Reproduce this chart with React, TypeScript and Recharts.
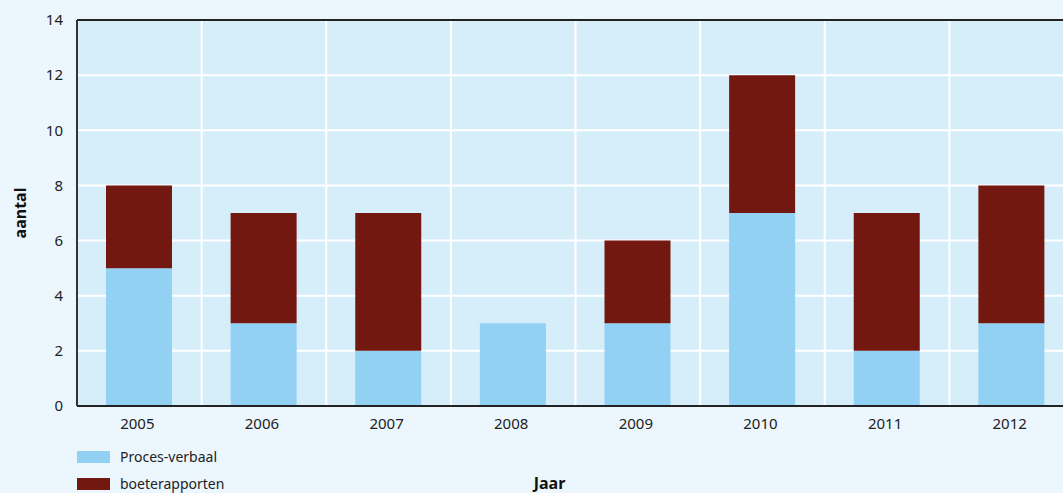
import React from 'react';
import {
  BarChart,
  Bar,
  XAxis,
  YAxis,
  CartesianGrid,
  ReferenceLine,
} from 'recharts';

const years = ['2005', '2006', '2007', '2008', '2009', '2010', '2011', '2012'];
const procesVerbaal = [5, 3, 2, 3, 3, 7, 2, 3];
const boeterapporten = [3, 4, 5, 0, 3, 5, 5, 5];
const yTicks = [0, 2, 4, 6, 8, 10, 12, 14];

const data = years.map((year, i) => ({
  year,
  pv: procesVerbaal[i],
  br: boeterapporten[i],
}));

const FONT = '"Noto Sans", "Open Sans", sans-serif';
const LIGHT = '#92d1f3';
const DARK = '#731811';

const legendItems = [
  { label: 'Proces-verbaal', color: LIGHT },
  { label: 'boeterapporten', color: DARK },
];

export default function App() {
  return (
    <div
      style={{
        position: 'absolute',
        left: 0,
        top: 0,
        width: 1063,
        height: 493,
        overflow: 'hidden',
        background: '#ecf6fd',
      }}
    >
      <BarChart
        width={1090}
        height={493}
        data={data}
        margin={{ top: 20, right: 16, bottom: 47, left: 0 }}
        barSize={66}
      >
        <CartesianGrid
          fill="#d6eefa"
          stroke="#ffffff"
          strokeWidth={2}
          verticalCoordinatesGenerator={({ offset }: any) =>
            years.map((_, i) => offset.left + (i * offset.width) / years.length)
          }
        />
        <XAxis
          dataKey="year"
          height={40}
          tickLine={false}
          tickSize={0}
          tickMargin={12}
          axisLine={{ stroke: '#222', strokeWidth: 2 }}
          tick={{ fill: '#222', fontSize: 15, fontFamily: FONT, dx: -2 }}
          label={{
            content: ({ viewBox }: any) => (
              <text
                x={viewBox.x + viewBox.width / 2 - 26}
                y={489}
                textAnchor="middle"
                fontFamily={FONT}
                fontSize={16}
                fontWeight="bold"
                fill="#111"
              >
                Jaar
              </text>
            ),
          }}
        />
        <YAxis
          width={77}
          domain={[0, 14]}
          ticks={yTicks}
          interval={0}
          tickLine={false}
          tickSize={0}
          tickMargin={14}
          axisLine={{ stroke: '#333', strokeWidth: 2 }}
          tick={{ fill: '#222', fontSize: 15, fontFamily: FONT }}
          label={{
            content: ({ viewBox }: any) => (
              <text
                x={20}
                y={viewBox.y + viewBox.height / 2}
                transform={`rotate(-90, 20, ${viewBox.y + viewBox.height / 2})`}
                textAnchor="middle"
                dominantBaseline="central"
                fontFamily={FONT}
                fontSize={16}
                fontWeight="bold"
                fill="#111"
              >
                aantal
              </text>
            ),
          }}
        />
        <ReferenceLine y={14} stroke="#222" strokeWidth={2} />
        <Bar
          dataKey="pv"
          name="Proces-verbaal"
          stackId="a"
          fill={LIGHT}
          isAnimationActive={false}
        />
        <Bar
          dataKey="br"
          name="boeterapporten"
          stackId="a"
          fill={DARK}
          isAnimationActive={false}
        />
      </BarChart>
      <div
        style={{
          position: 'absolute',
          left: 77,
          top: 443,
          fontFamily: FONT,
          fontSize: 14,
          color: '#222',
        }}
      >
        {legendItems.map((it) => (
          <div
            key={it.label}
            style={{ display: 'flex', alignItems: 'center', height: 27 }}
          >
            <span
              style={{
                display: 'inline-block',
                width: 33,
                height: 12,
                background: it.color,
                marginRight: 10,
              }}
            />
            {it.label}
          </div>
        ))}
      </div>
    </div>
  );
}
